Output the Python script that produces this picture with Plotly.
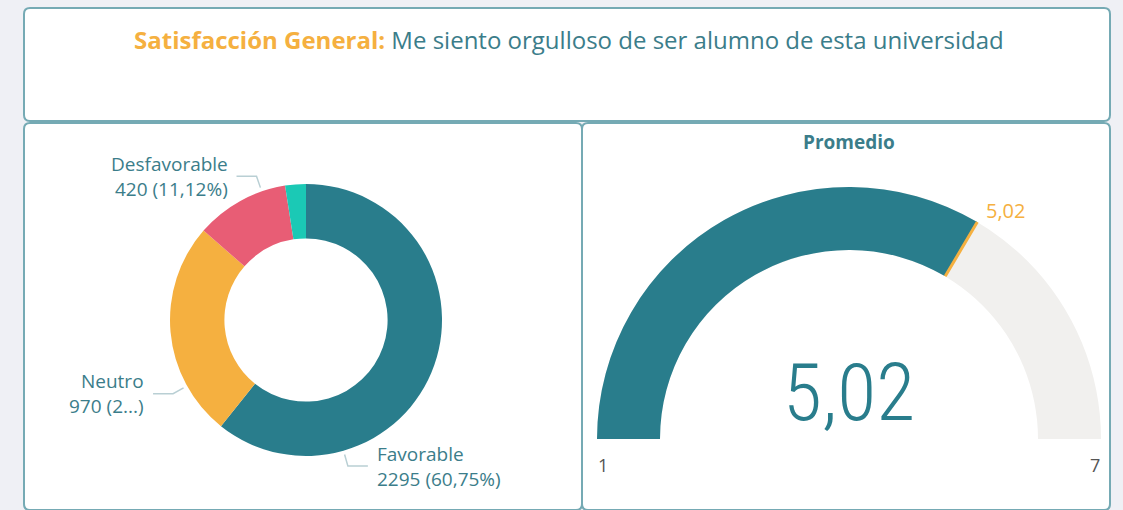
import math
import plotly.graph_objects as go

# ---------------- data ----------------
categories = ["Favorable", "Neutro", "Desfavorable", "Sin respuesta"]
counts = [2295, 970, 420, 93]
label_texts = ["Favorable<br>2295 (60,75%)", "Neutro<br>970 (2...)", "Desfavorable<br>420 (11,12%)", ""]
gauge_value = 5.02
gauge_min = 1
gauge_max = 7
title_key = "Satisfacción General:"
title_rest = " Me siento orgulloso de ser alumno de esta universidad"
gauge_title = "Promedio"

# ---------------- style ----------------
W, H = 1123, 510
BG = "#eff0f5"
BORDER = "#75aab4"
TEAL = "#297d8c"
ORANGE = "#f5b040"
RED = "#e85d75"
GREEN = "#1bc9b5"
GAUGE_BG = "#f1f0ee"
TXT = "#3b7d8a"
FONT = "Open Sans"
slice_colors = [TEAL, ORANGE, RED, GREEN]


def px(x):
    return x / W


def py(y):
    return 1 - y / H


def rrect(x0, y0, x1, y1, r):
    pts = [
        f"M {px(x0 + r)},{py(y0)}",
        f"L {px(x1 - r)},{py(y0)}",
        f"Q {px(x1)},{py(y0)} {px(x1)},{py(y0 + r)}",
        f"L {px(x1)},{py(y1 - r)}",
        f"Q {px(x1)},{py(y1)} {px(x1 - r)},{py(y1)}",
        f"L {px(x0 + r)},{py(y1)}",
        f"Q {px(x0)},{py(y1)} {px(x0)},{py(y1 - r)}",
        f"L {px(x0)},{py(y0 + r)}",
        f"Q {px(x0)},{py(y0)} {px(x0 + r)},{py(y0)}",
        "Z",
    ]
    return " ".join(pts)


shapes = []
for (x0, y0, x1, y1) in [(24, 8, 1110, 121), (24, 123, 582, 510), (582, 123, 1110, 510)]:
    shapes.append(dict(type="path", xref="paper", yref="paper", path=rrect(x0, y0, x1, y1, 6),
                       fillcolor="white", line=dict(color=BORDER, width=2), layer="below"))

fig = go.Figure()

# ---------------- donut ----------------
cx, cy, R = 306, 320, 136
fig.add_trace(go.Pie(
    labels=categories, values=counts, hole=0.6, sort=False, direction="clockwise", rotation=0,
    marker=dict(colors=slice_colors, line=dict(width=0)), textinfo="none", showlegend=False,
    hoverinfo="label+value+percent",
    domain=dict(x=[px(cx - R), px(cx + R)], y=[py(cy + R), py(cy - R)]),
))

annotations = []
# leader lines + labels (anchor angle in degrees clockwise from 12 o'clock, side)
label_layout = [(164, "right"), (241, "left"), (341, "left"), None]
for txt, lay in zip(label_texts, label_layout):
    if lay is None or not txt:
        continue
    ang, side = lay
    a = math.radians(ang)
    sx, sy = math.sin(a), -math.cos(a)
    p0 = (cx + (R + 4) * sx, cy + (R + 4) * sy)
    p1 = (cx + (R + 16) * sx, cy + (R + 16) * sy)
    d = 20 if side == "right" else -20
    p2 = (p1[0] + d, p1[1])
    shapes.append(dict(type="path", xref="paper", yref="paper",
                       path=f"M {px(p0[0])},{py(p0[1])} L {px(p1[0])},{py(p1[1])} L {px(p2[0])},{py(p2[1])}",
                       line=dict(color="#b9cfd4", width=1.5)))
    annotations.append(dict(
        x=px(p2[0] + (7 if side == "right" else -7)), y=py(p1[1]), xref="paper", yref="paper",
        text=txt, showarrow=False, xanchor="left" if side == "right" else "right",
        align="left" if side == "right" else "right", yanchor="middle",
        font=dict(family=FONT, size=19, color=TXT),
    ))

# ---------------- gauge ----------------
gx, gy, GR = 849, 439, 252
fig.add_trace(go.Indicator(
    mode="gauge", value=gauge_value,
    domain=dict(x=[px(gx - GR), px(gx + GR)], y=[py(gy), py(gy - GR)]),
    gauge=dict(
        shape="angular",
        axis=dict(range=[gauge_min, gauge_max], showticklabels=False, ticks="", ticklen=0, tickwidth=0),
        bar=dict(color=TEAL, thickness=1, line=dict(width=0)),
        bgcolor=GAUGE_BG, borderwidth=0,
        threshold=dict(line=dict(color=ORANGE, width=3), thickness=1, value=gauge_value),
    ),
))


def fmt(v):
    return f"{v:.2f}".replace(".", ",")


# big number
annotations.append(dict(x=px(gx), y=py(393), xref="paper", yref="paper", text=fmt(gauge_value),
                        showarrow=False, xanchor="center", yanchor="middle",
                        font=dict(family="Roboto Condensed, Roboto", size=80, color=TEAL, weight=300)))
# threshold label
va = math.pi * (1 - (gauge_value - gauge_min) / (gauge_max - gauge_min))
annotations.append(dict(x=px(gx + 266 * math.cos(va)), y=py(gy - 266 * math.sin(va)), xref="paper", yref="paper",
                        text=fmt(gauge_value), showarrow=False, xanchor="left", yanchor="middle",
                        font=dict(family=FONT, size=20, color=ORANGE)))
# min / max labels
annotations.append(dict(x=px(gx - GR + 6), y=py(gy + 26), xref="paper", yref="paper", text=str(gauge_min),
                        showarrow=False, xanchor="center", yanchor="middle",
                        font=dict(family=FONT, size=18, color="#555555")))
annotations.append(dict(x=px(gx + GR - 6), y=py(gy + 26), xref="paper", yref="paper", text=str(gauge_max),
                        showarrow=False, xanchor="center", yanchor="middle",
                        font=dict(family=FONT, size=18, color="#555555")))
# gauge title
annotations.append(dict(x=px(gx), y=py(142), xref="paper", yref="paper", text=f"<b>{gauge_title}</b>",
                        showarrow=False, xanchor="center", yanchor="middle",
                        font=dict(family=FONT, size=19, color=TXT)))
# main title
annotations.append(dict(x=px(569), y=py(40), xref="paper", yref="paper",
                        text=f"<span style='color:{ORANGE}'><b>{title_key}</b></span>{title_rest}",
                        showarrow=False, xanchor="center", yanchor="middle",
                        font=dict(family=FONT, size=24, color=TXT)))

fig.update_layout(
    width=W, height=H, margin=dict(l=0, r=0, t=0, b=0), paper_bgcolor=BG, plot_bgcolor=BG,
    shapes=shapes, annotations=annotations, separators=",.",
    showlegend=False,
)
fig.write_html("out.html", config={"displayModeBar": False},
               post_script=f"document.body.style.margin='0';document.body.style.background='{BG}';")
